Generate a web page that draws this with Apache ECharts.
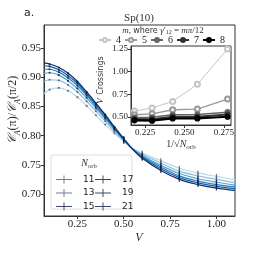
<!DOCTYPE html>
<html><head><meta charset="utf-8">
<script src="https://cdn.jsdelivr.net/npm/echarts@6/dist/echarts.min.js"></script>
<style>html,body{margin:0;padding:0;background:#fff}#c{width:254px;height:254px}</style>
</head><body><div id="c"></div>
<script>
// ---- data ----
const V = [0.07, 0.1, 0.15, 0.2, 0.25, 0.3, 0.35, 0.4, 0.45, 0.5, 0.55, 0.6, 0.7, 0.8, 0.9, 1.0, 1.1];
const N_ORB = ['11', '13', '15', '17', '19', '21'];
const ratio11 = [0.872, 0.879, 0.882, 0.877, 0.866, 0.851, 0.835, 0.819, 0.804, 0.790, 0.778, 0.770, 0.757, 0.744, 0.736, 0.730, 0.724];
const ratio13 = [0.893, 0.896, 0.895, 0.887, 0.875, 0.859, 0.842, 0.825, 0.807, 0.791, 0.777, 0.768, 0.753, 0.739, 0.731, 0.725, 0.719];
const ratio15 = [0.907, 0.908, 0.904, 0.894, 0.881, 0.865, 0.847, 0.829, 0.810, 0.792, 0.777, 0.766, 0.749, 0.735, 0.726, 0.720, 0.715];
const ratio17 = [0.914, 0.914, 0.909, 0.899, 0.886, 0.869, 0.850, 0.831, 0.812, 0.793, 0.776, 0.764, 0.746, 0.731, 0.722, 0.716, 0.712];
const ratio19 = [0.920, 0.919, 0.913, 0.903, 0.890, 0.872, 0.853, 0.834, 0.813, 0.794, 0.776, 0.763, 0.743, 0.728, 0.719, 0.713, 0.709];
const ratio21 = [0.925, 0.923, 0.917, 0.907, 0.893, 0.875, 0.856, 0.836, 0.815, 0.795, 0.776, 0.761, 0.740, 0.725, 0.716, 0.710, 0.706];
const RATIOS = [ratio11, ratio13, ratio15, ratio17, ratio19, ratio21];

const INV_SQRT_N = [0.2182, 0.2294, 0.2425, 0.2582, 0.2774];
const M_VALUES = ['4', '5', '6', '7', '8'];
const cross4 = [0.565, 0.600, 0.672, 0.860, 1.250];
const cross5 = [0.525, 0.535, 0.580, 0.588, 0.698];
const cross6 = [0.495, 0.497, 0.525, 0.527, 0.553];
const cross7 = [0.478, 0.476, 0.503, 0.503, 0.528];
const cross8 = [0.463, 0.460, 0.485, 0.485, 0.503];
const CROSS = [cross4, cross5, cross6, cross7, cross8];

const MAIN_X_TICKS = [0.25, 0.5, 0.75, 1.0];
const MAIN_Y_TICKS = [0.70, 0.75, 0.80, 0.85, 0.90, 0.95];
const INSET_X_TICKS = [0.225, 0.25, 0.275];
const INSET_Y_TICKS = [0.5, 0.75, 1.0, 1.25];

// ---- styles ----
const blues = ['#bcd7ec', '#8cc0de', '#5aa2cf', '#2f7ebc', '#135ea6', '#08306b'];
const grays = ['#c4c4c4', '#9a9a9a', '#666666', '#333333', '#000000'];
const grayW = [1, 1.3, 1.6, 1.9, 2.2];
const SERIF = 'Liberation Serif, DejaVu Serif, serif';
const SANS = 'DejaVu Sans, sans-serif';
const AX = '#333';

const chart = echarts.init(document.getElementById('c'), null, {renderer: 'canvas'});

const mainSeries = N_ORB.map((n, i) => ({
  name: n, type: 'line', xAxisIndex: 0, yAxisIndex: 0,
  data: V.map((v, j) => [v, RATIOS[i][j]]),
  smooth: 0.35, showAllSymbol: true,
  symbol: (val) => {
    const v = val[0];
    if (v < 0.09 || v > 1.05) return 'none';
    if (v >= 0.5) return Math.abs(v * 10 - Math.round(v * 10)) < 1e-6 ? 'rect' : 'none';
    return 'circle';
  },
  symbolSize: (val) => val[0] >= 0.5 ? [1.3, 5] : 2.2,
  lineStyle: {color: blues[i], width: 1.2},
  itemStyle: {color: i < 2 ? 'rgba(70,80,100,0.75)' : 'rgba(10,25,60,0.8)'},
  color: blues[i], z: 2 + i, animation: false, silent: true
}));

const insetSeries = M_VALUES.map((m, i) => ({
  name: m, type: 'line', xAxisIndex: 1, yAxisIndex: 1,
  data: INV_SQRT_N.map((x, j) => [x, CROSS[i][j]]),
  symbol: i < 2 ? 'emptyCircle' : 'circle', symbolSize: 5,
  lineStyle: {color: grays[i], width: grayW[i]},
  itemStyle: {color: grays[i], borderColor: grays[i], borderWidth: 1.2},
  color: grays[i], z: 10 + i, animation: false, silent: true
}));

const ebIcon = 'path://M0,4.4H20V5.6H0Z M9.4,0H10.6V10H9.4Z';

const option = {
  animation: false,
  grid: [
    {left: 44, right: 19, top: 25, bottom: 38, show: true, borderColor: AX, borderWidth: 1, backgroundColor: '#fff'},
    {left: 131, right: 23, top: 46, bottom: 129, show: true, borderColor: AX, borderWidth: 1, backgroundColor: '#fff', z: 5}
  ],
  xAxis: [
    {type: 'value', gridIndex: 0, min: 0.07, max: 1.1,
     axisLine: {show: true, lineStyle: {color: AX}}, splitLine: {show: false},
     axisTick: {show: true, length: 3, customValues: MAIN_X_TICKS, lineStyle: {color: AX}},
     axisLabel: {customValues: MAIN_X_TICKS, formatter: v => v.toFixed(2), fontFamily: SERIF, fontSize: 11, color: '#222', margin: 3}},
    {type: 'value', gridIndex: 1, min: 0.216, max: 0.2796, z: 6,
     axisLine: {show: true, lineStyle: {color: AX}}, splitLine: {show: false},
     axisTick: {show: true, length: 3, customValues: INSET_X_TICKS, lineStyle: {color: AX}},
     axisLabel: {customValues: INSET_X_TICKS, formatter: v => v.toFixed(3), fontFamily: SERIF, fontSize: 9, color: '#222', margin: 3}}
  ],
  yAxis: [
    {type: 'value', gridIndex: 0, min: 0.662, max: 0.99,
     axisLine: {show: true, lineStyle: {color: AX}}, splitLine: {show: false},
     axisTick: {show: true, length: 3, customValues: MAIN_Y_TICKS, lineStyle: {color: AX}},
     axisLabel: {customValues: MAIN_Y_TICKS, formatter: v => v.toFixed(2), fontFamily: SERIF, fontSize: 11, color: '#222', margin: 3}},
    {type: 'value', gridIndex: 1, min: 0.412, max: 1.283, z: 6,
     axisLine: {show: true, lineStyle: {color: AX}}, splitLine: {show: false},
     axisTick: {show: true, length: 3, customValues: INSET_Y_TICKS, lineStyle: {color: AX}},
     axisLabel: {show: true, customValues: INSET_Y_TICKS, formatter: v => v.toFixed(2), fontFamily: SERIF, fontSize: 9, color: '#222', margin: 3, showMinLabel: true, showMaxLabel: true}}
  ],
  legend: [
    {data: N_ORB.slice(0, 3), orient: 'vertical', left: 51, top: 170, itemWidth: 16, itemHeight: 9, itemGap: 4.5,
     icon: ebIcon, textStyle: {fontFamily: SANS, fontSize: 9, color: '#222', padding: [0, 0, 0, 6]}, selectedMode: false, z: 20},
    {data: N_ORB.slice(3), orient: 'vertical', left: 90, top: 170, itemWidth: 16, itemHeight: 9, itemGap: 4.5,
     icon: ebIcon, textStyle: {fontFamily: SANS, fontSize: 9, color: '#222', padding: [0, 0, 0, 6]}, selectedMode: false, z: 20},
    {data: M_VALUES, orient: 'horizontal', left: 98, top: 35, padding: 0, itemWidth: 12, itemHeight: 5, itemGap: 3,
     textStyle: {fontFamily: SERIF, fontSize: 10, color: '#222'}, selectedMode: false, z: 20}
  ],
  graphic: [
    {type: 'text', left: 24, top: 8, style: {text: 'a.', font: '11px ' + SANS, fill: '#222'}},
    {type: 'text', x: 139, y: 18, style: {text: 'Sp(10)', font: '11px ' + SERIF, fill: '#333', align: 'center', verticalAlign: 'middle'}},
    {type: 'text', x: 139, y: 238, style: {text: 'V', font: 'italic 12px ' + SERIF, fill: '#333', align: 'center', verticalAlign: 'middle'}},
    {type: 'text', x: 12, y: 110, rotation: Math.PI / 2,
     style: {text: '{c|𝒞}{s|A}{n|(π)/}{c|𝒞}{s|A}{n|(π/2)}', align: 'center', verticalAlign: 'middle', fill: '#333',
       rich: {c: {font: 'italic 12px ' + SERIF, fill: '#333', lineHeight: 14, verticalAlign: 'bottom'},
              n: {font: '12px ' + SERIF, fill: '#333', lineHeight: 14, verticalAlign: 'bottom'},
              s: {font: 'italic 8px ' + SERIF, fill: '#333', lineHeight: 10, verticalAlign: 'bottom', padding: [0, 0, -3, 0]}}}},
    {type: 'text', x: 181, y: 144,
     style: {text: '{n|1/√}{i|N}{s|orb}', align: 'center', verticalAlign: 'middle',
       rich: {n: {font: '10px ' + SERIF, fill: '#333', verticalAlign: 'bottom'},
              i: {font: 'italic 10px ' + SERIF, fill: '#333', verticalAlign: 'bottom'},
              s: {font: '7px ' + SERIF, fill: '#333', verticalAlign: 'bottom', padding: [0, 0, -2, 0]}}}},
    {type: 'text', x: 101, y: 80, rotation: Math.PI / 2,
     style: {text: '{i|V} {n|Crossings}', align: 'center', verticalAlign: 'middle',
       rich: {i: {font: 'italic 9px ' + SERIF, fill: '#333'}, n: {font: '8px ' + SANS, fill: '#333'}}}},
    {type: 'text', x: 163, y: 31, z: 30,
     style: {text: '{i|m}{n|, }{w|where }{i|γ}{n|′}{s|12}{n| = }{i|mπ}{n|/12}', align: 'center', verticalAlign: 'middle',
       rich: {i: {font: 'italic 9px ' + SERIF, fill: '#333'}, n: {font: '9px ' + SERIF, fill: '#333'},
              w: {font: '8px ' + SANS, fill: '#333'}, s: {font: '6px ' + SERIF, fill: '#333', padding: [3, 0, 0, 0]}}}},
    {type: 'rect', shape: {x: 51, y: 155, width: 81, height: 54, r: 2}, z: 15,
     style: {fill: 'rgba(255,255,255,0.85)', stroke: '#ddd', lineWidth: 1}},
    {type: 'text', x: 89, y: 163, z: 16,
     style: {text: '{i|N}{s|orb}', align: 'center', verticalAlign: 'middle',
       rich: {i: {font: 'italic 10px ' + SERIF, fill: '#333', verticalAlign: 'bottom'},
              s: {font: '6.5px ' + SERIF, fill: '#333', verticalAlign: 'bottom', padding: [0, 0, -2, 0]}}}}
  ],
  series: mainSeries.concat(insetSeries)
};
chart.setOption(option);
</script></body></html>
